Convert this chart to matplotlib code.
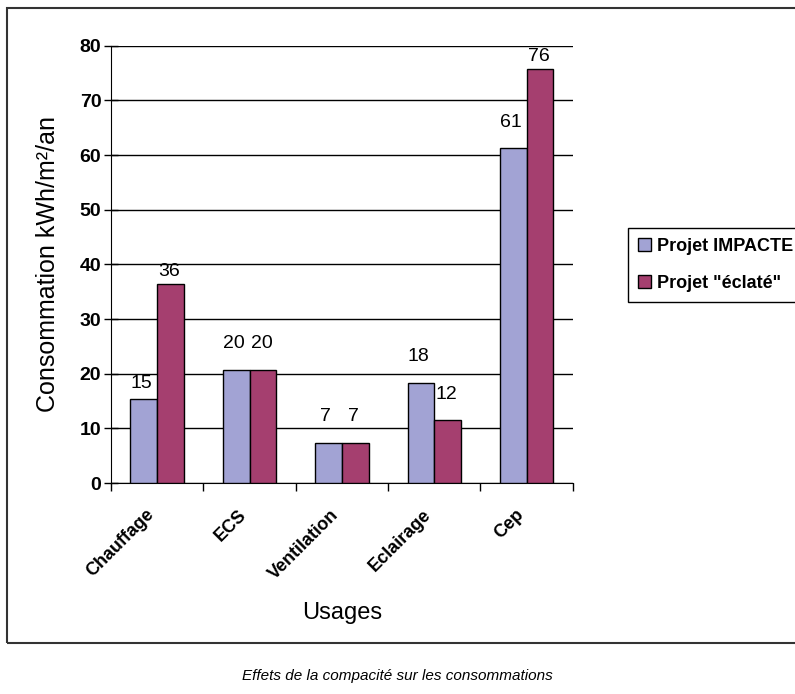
import numpy as np
import matplotlib.pyplot as plt
from matplotlib.patches import Rectangle
from matplotlib.transforms import ScaledTranslation

plt.rcParams['font.family'] = ['Liberation Sans', 'DejaVu Sans']

usages = ['Chauffage', 'ECS', 'Ventilation', 'Eclairage', 'Cep']
impacte = [15.3, 20.6, 7.3, 18.3, 61.3]
eclate = [36.4, 20.6, 7.3, 11.6, 75.7]
labels_impacte = ['15', '20', '7', '18', '61']
labels_eclate = ['36', '20', '7', '12', '76']
series_names = ['Projet IMPACTE', 'Projet "éclaté"']

# label gap above each bar (points), as the original spreadsheet placed them
pad_impacte = [5, 13, 13, 13, 12]
pad_eclate = [3, 13, 13, 12, 3]

c_blue = '#a2a3d4'
c_red = '#a53f6f'

fig = plt.figure(figsize=(7.95, 6.94), dpi=100)
ax = fig.add_axes([0.1396, 0.304, 0.581, 0.630])

x = np.arange(len(usages))
w = 0.29
b1 = ax.bar(x - w/2, impacte, w, color=c_blue, edgecolor='black', linewidth=1, label=series_names[0], zorder=3)
b2 = ax.bar(x + w/2, eclate, w, color=c_red, edgecolor='black', linewidth=1, label=series_names[1], zorder=3)

for xi, v, t, p in zip(x, impacte, labels_impacte, pad_impacte):
    ax.annotate(t, (xi - w/2, v), xytext=(-2, p), textcoords='offset points',
                ha='center', va='bottom', fontsize=14)
for xi, v, t, p in zip(x, eclate, labels_eclate, pad_eclate):
    ax.annotate(t, (xi + w/2, v), xytext=(-1, p), textcoords='offset points',
                ha='center', va='bottom', fontsize=14)

ax.set_xlim(-0.5, len(usages) - 0.5)
ax.set_ylim(0, 80)
ax.set_yticks(range(0, 81, 10))
ax.tick_params(axis='y', labelsize=14, length=10, width=1, direction='inout', pad=2)
for lb in ax.get_yticklabels():
    lb.set_fontweight('bold')
ax.set_xticks(np.arange(-0.5, len(usages), 1))
ax.set_xticklabels([])
ax.tick_params(axis='x', length=6, width=1, direction='out')
ax.set_xticks(x, minor=True)
ax.set_xticklabels(usages, minor=True, rotation=45, ha='right', va='center', rotation_mode='anchor',
                   fontsize=13, fontweight='bold')
ax.tick_params(axis='x', which='minor', length=0, pad=21)
shift = ScaledTranslation(-4/72, 0, fig.dpi_scale_trans)
for lb in ax.get_xticklabels(minor=True):
    lb.set_transform(lb.get_transform() + shift)

ax.grid(axis='y', color='black', linewidth=1, zorder=0)
ax.spines['top'].set_visible(False)
ax.spines['right'].set_visible(False)
ax.set_ylabel('Consommation kWh/m²/an', fontsize=18, labelpad=14)
ax.set_xlabel('Usages', fontsize=17, labelpad=14)

fig.legend(handles=[b1, b2], loc='upper left', bbox_to_anchor=(628/795, 1 - 228/694),
           frameon=True, fancybox=False, edgecolor='black', framealpha=1,
           prop={'weight': 'bold', 'size': 13}, handlelength=0.7, handleheight=0.7,
           handletextpad=0.35, borderpad=0.55, labelspacing=1.1, borderaxespad=0)

fig.patches.append(Rectangle((7/795, 1 - 643/694), 1.0, (643 - 8)/694, transform=fig.transFigure,
                             fill=False, edgecolor='#333333', linewidth=1.5))

fig.text(0.5, 1 - 676/694, 'Effets de la compacité sur les consommations', ha='center', va='center',
         fontsize=11, style='italic')

fig.savefig('out.png', dpi=100)
